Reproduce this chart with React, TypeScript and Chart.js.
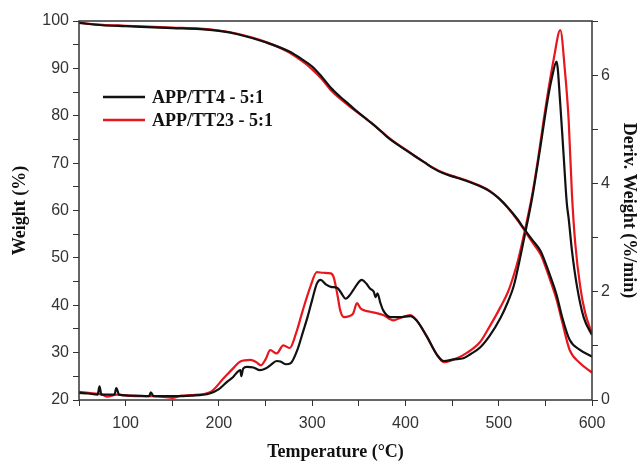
import React, { useEffect, useRef } from "react";
import { Chart, registerables } from "chart.js";

Chart.register(...registerables);

// ---- Data ----
const tgaTemp = [50, 75, 100, 150, 180, 200, 220, 250, 275, 290, 300, 310, 320, 330, 340, 350, 360, 370, 380, 390, 400, 410, 420, 430, 440, 450, 460, 470, 480, 490, 500, 510, 520, 528, 536, 545, 550, 555, 562, 568, 576, 587, 600];
const weightTT4 = [99.6, 99.1, 98.9, 98.5, 98.3, 97.9, 97.2, 95.5, 93.6, 91.8, 90.4, 88.3, 85.9, 84.0, 82.3, 80.6, 79.0, 77.4, 75.6, 74.1, 72.8, 71.5, 70.2, 68.9, 67.9, 67.2, 66.6, 65.9, 65.1, 64.1, 62.6, 60.6, 58.2, 55.9, 53.8, 51.4, 49.0, 46.3, 42.2, 37.5, 32.7, 30.6, 29.2];
const weightTT23 = [99.6, 99.2, 99.0, 98.6, 98.4, 98.0, 97.3, 95.6, 93.4, 91.4, 89.8, 87.8, 85.4, 83.6, 82.0, 80.5, 79.0, 77.4, 75.7, 74.2, 72.9, 71.5, 70.2, 69.0, 68.0, 67.3, 66.7, 66.0, 65.2, 64.2, 62.6, 60.5, 58.0, 55.7, 53.3, 50.7, 48.2, 45.4, 41.2, 36.5, 30.6, 27.8, 25.8];

const dtgTempTT4 = [50, 60, 70, 72, 74, 88, 90, 93, 110, 125, 127, 130, 150, 170, 190, 200, 209, 215, 220, 223, 224, 226, 230, 237, 244, 250, 255, 262, 266, 272, 277, 284, 290, 295, 300, 305, 309, 315, 320, 327, 331, 336, 340, 344, 350, 353, 358, 362, 366, 368, 370, 373, 376, 384, 394, 405, 412, 423, 434, 441, 452, 462, 470, 480, 490, 502, 510, 516, 522, 528, 536, 544, 552, 557, 562, 566, 569.5, 573, 575, 578.5, 584, 591, 600];
const dtgTT4 = [0.13, 0.12, 0.10, 0.25, 0.10, 0.10, 0.22, 0.10, 0.08, 0.07, 0.14, 0.07, 0.07, 0.08, 0.12, 0.20, 0.34, 0.42, 0.52, 0.55, 0.44, 0.58, 0.61, 0.60, 0.55, 0.58, 0.64, 0.72, 0.71, 0.66, 0.68, 0.92, 1.25, 1.53, 1.85, 2.15, 2.22, 2.13, 2.09, 2.07, 1.98, 1.87, 1.93, 2.03, 2.18, 2.22, 2.15, 2.06, 2.0, 1.9, 1.97, 1.8, 1.66, 1.53, 1.53, 1.55, 1.47, 1.17, 0.83, 0.72, 0.75, 0.77, 0.85, 0.97, 1.18, 1.52, 1.82, 2.1, 2.55, 3.05, 3.75, 4.6, 5.5, 5.95, 6.25, 5.46, 4.54, 3.63, 3.35, 2.76, 2.09, 1.53, 1.2];

const dtgTempTT23 = [50, 60, 75, 80, 90, 110, 130, 150, 160, 170, 191, 205, 215, 223, 234, 240, 245, 250, 255, 262, 269, 276, 283, 290, 298, 305, 312, 320, 323, 327, 330, 334, 340, 344, 348, 352, 357, 362, 370, 376, 387, 395, 405, 412, 423, 434, 441, 452, 462, 480, 490, 502, 510, 516, 521, 528, 536, 543, 548, 552, 559, 566, 571, 575, 578.5, 582, 587.4, 592.8, 600];
const dtgTT23 = [0.15, 0.13, 0.10, 0.06, 0.10, 0.07, 0.07, 0.04, 0.08, 0.09, 0.15, 0.40, 0.58, 0.71, 0.74, 0.70, 0.64, 0.75, 0.92, 0.86, 1.01, 0.96, 1.25, 1.66, 2.09, 2.36, 2.35, 2.34, 2.27, 1.95, 1.66, 1.53, 1.55, 1.6, 1.79, 1.69, 1.65, 1.63, 1.6, 1.57, 1.47, 1.52, 1.57, 1.47, 1.17, 0.83, 0.7, 0.75, 0.83, 1.07, 1.35, 1.72, 2.0, 2.3, 2.6, 3.13, 3.8, 4.55, 5.15, 5.6, 6.3, 6.83, 6.08, 5.16, 3.8, 2.9, 2.09, 1.6, 1.23];

const seriesNames = ["APP/TT4 - 5:1", "APP/TT23 - 5:1"];
const xTicks = [100, 200, 300, 400, 500, 600];
const yLeftTicks = [20, 30, 40, 50, 60, 70, 80, 90, 100];
const yRightTicks = [0, 2, 4, 6];

const BLACK = "#111111";
const RED = "#e8161d";
const AXIS = "#333333";

const pts = (xs: number[], ys: number[]) => xs.map((x, i) => ({ x, y: ys[i] }));

const framePlugin = {
  id: "frame",
  afterDraw(chart: any) {
    const { ctx, chartArea: a } = chart;
    ctx.save();
    ctx.strokeStyle = AXIS;
    ctx.lineWidth = 1.5;
    ctx.strokeRect(a.left, a.top, a.right - a.left, a.bottom - a.top);
    ctx.restore();
  },
};

const legendPlugin = {
  id: "customLegend",
  afterDraw(chart: any) {
    const { ctx, chartArea: a } = chart;
    const colors = [BLACK, RED];
    ctx.save();
    ctx.font = "bold 18px 'Liberation Serif', 'Times New Roman', serif";
    ctx.textBaseline = "middle";
    seriesNames.forEach((name, i) => {
      const y = a.top + 76 + i * 23;
      ctx.strokeStyle = colors[i];
      ctx.lineWidth = 2.5;
      ctx.beginPath();
      ctx.moveTo(a.left + 24, y);
      ctx.lineTo(a.left + 66, y);
      ctx.stroke();
      ctx.fillStyle = "#111";
      ctx.fillText(name, a.left + 73, y + 1);
    });
    ctx.restore();
  },
};

export default function App() {
  const ref = useRef<HTMLCanvasElement | null>(null);

  useEffect(() => {
    if (!ref.current) return;
    const tickFont = { family: "'Liberation Sans', Arial, sans-serif", size: 16 };
    const titleFont = { family: "'Liberation Serif', 'Times New Roman', serif", size: 18, weight: "bold" as const };
    const common = { borderWidth: 2.2, pointRadius: 0, cubicInterpolationMode: "monotone" as const, fill: false };
    const chart = new Chart(ref.current, {
      type: "line",
      data: {
        datasets: [
          { ...common, label: seriesNames[0] + " TGA", data: pts(tgaTemp, weightTT4), borderColor: BLACK, yAxisID: "y" },
          { ...common, label: seriesNames[1] + " TGA", data: pts(tgaTemp, weightTT23), borderColor: RED, yAxisID: "y" },
          { ...common, label: seriesNames[0] + " DTG", data: pts(dtgTempTT4, dtgTT4), borderColor: BLACK, yAxisID: "y1" },
          { ...common, label: seriesNames[1] + " DTG", data: pts(dtgTempTT23, dtgTT23), borderColor: RED, yAxisID: "y1" },
        ],
      },
      options: {
        responsive: false,
        animation: false,
        layout: { padding: { top: 21, left: 0, right: 0, bottom: 0 } },
        plugins: { legend: { display: false }, tooltip: { enabled: false } },
        scales: {
          x: {
            type: "linear",
            min: 50,
            max: 600,
            afterFit(s: any) { s.height = 63; },
            afterBuildTicks(s: any) {
              const t = [];
              for (let v = 50; v <= 600; v += 50) t.push({ value: v });
              s.ticks = t;
            },
            ticks: {
              font: tickFont,
              color: AXIS,
              padding: 8,
              maxRotation: 0,
              callback: (v: any) => (xTicks.includes(Number(v)) ? String(v) : ""),
            },
            grid: { drawOnChartArea: false, drawTicks: true, tickLength: 6, color: AXIS },
            border: { display: false },
            title: { display: true, text: "Temperature (°C)", font: titleFont, color: "#111", padding: { top: 0, bottom: 0 } },
          },
          y: {
            type: "linear",
            position: "left",
            min: 20,
            max: 100,
            afterFit(s: any) { s.width = 79; },
            afterBuildTicks(s: any) {
              const t = [];
              for (let v = 20; v <= 100; v += 5) t.push({ value: v });
              s.ticks = t;
            },
            ticks: {
              font: tickFont,
              color: AXIS,
              padding: 4,
              callback: (v: any) => (yLeftTicks.includes(Number(v)) ? String(v) : ""),
            },
            grid: { drawOnChartArea: false, drawTicks: true, tickLength: 6, color: AXIS },
            border: { display: false },
            title: { display: true, text: "Weight (%)", font: titleFont, color: "#111", padding: { top: 10, bottom: 0 } },
          },
          y1: {
            type: "linear",
            position: "right",
            min: 0,
            max: 7,
            afterFit(s: any) { s.width = 47; },
            afterBuildTicks(s: any) {
              const t = [];
              for (let v = 0; v <= 7; v += 1) t.push({ value: v });
              s.ticks = t;
            },
            ticks: {
              font: tickFont,
              color: AXIS,
              padding: 3,
              callback: (v: any) => (yRightTicks.includes(Number(v)) ? String(v) : ""),
            },
            grid: { drawOnChartArea: false, drawTicks: true, tickLength: 6, color: AXIS },
            border: { display: false },
            title: { display: true, text: "Deriv. Weight (%/min)", font: titleFont, color: "#111", padding: { top: 0, bottom: 0 } },
          },
        },
      },
      plugins: [framePlugin, legendPlugin],
    });
    return () => chart.destroy();
  }, []);

  return (
    <div style={{ position: "absolute", left: 0, top: 0, width: 639, height: 463, background: "#fff" }}>
      <canvas ref={ref} width={639} height={463} style={{ display: "block" }} />
    </div>
  );
}
